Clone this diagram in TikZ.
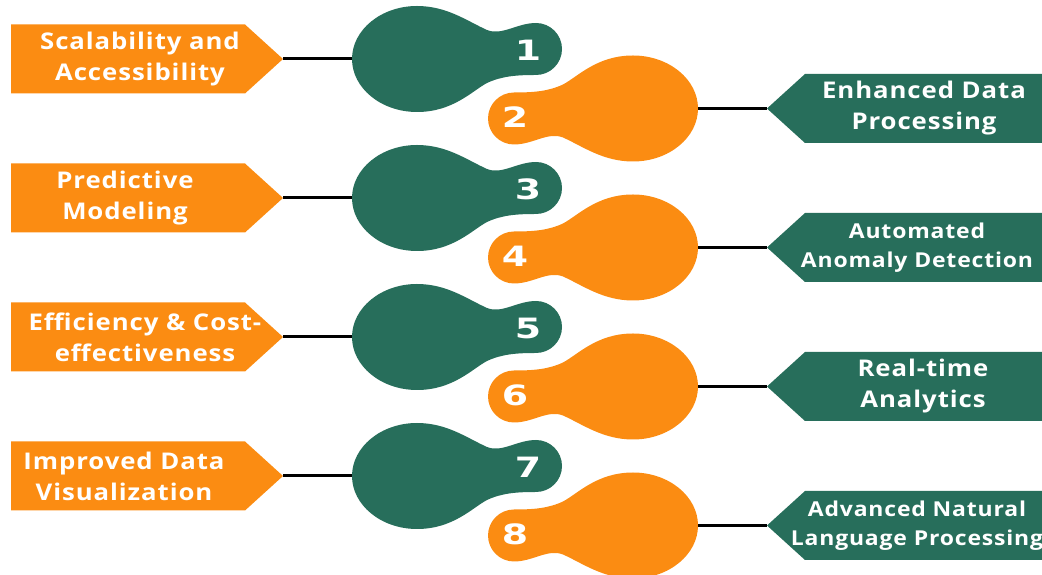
\documentclass[tikz,border=0pt]{standalone}
\usepackage{fontspec}
\setmainfont{Open Sans}[FakeStretch=1.12,LetterSpace=4]
\newfontfamily\digitfont[FakeStretch=1.35]{DejaVu Sans}
\definecolor{gr}{RGB}{39,110,91}
\definecolor{orn}{RGB}{251,140,18}
\tikzset{
  blob/.pic={
    \fill[pic actions] (-65,0) .. controls (-65,29) and (-36,53) .. (0,53)
      .. controls (30,53) and (50,38) .. (70,29)
      .. controls (85,23) and (100,36) .. (119,36)
      arc[start angle=90,end angle=-90,radius=26]
      .. controls (100,-16) and (85,-17) .. (70,-24)
      .. controls (55,-32) and (36,-53) .. (0,-53)
      .. controls (-36,-53) and (-65,-29) .. (-65,0) -- cycle;
  },
  conn/.style={line width=3pt, black},
  lbltext/.style={text=white, align=center, inner sep=0pt,
    font=\bfseries\fontsize{23}{31}\selectfont},
  lblsmall/.style={lbltext, font=\bfseries\fontsize{20.5}{29}\selectfont},
  digit/.style={text=white, inner sep=0pt, font=\digitfont\bfseries\fontsize{28}{28}\selectfont}
}
\begin{document}
\begin{tikzpicture}[x=1pt,y=1pt]
\useasboundingbox (0,0) rectangle (1042,575);
\clip (0,0) rectangle (1042,575);
\foreach \k/\a/\b in {0/1/2,1/3/4,2/5/6,3/7/8}{
  \pgfmathsetmacro\Y{516-139*\k}
  \pgfmathsetmacro\Z{466.5-139*\k}
  % left label
  \fill[orn] (11,\Y+34.5) -- (245,\Y+34.5) -- (283,\Y) -- (245,\Y-34.5) -- (11,\Y-34.5) -- cycle;
  \coordinate (lt\a) at (283,\Y);
  % green blob
  \pic[fill=gr] at (417,\Y) {blob};
  \coordinate (gw\a) at (352,\Y);
  \node[digit] (d\a) at (528,\Y+9) {\a};
  \draw[conn] (lt\a) -- (gw\a);
  % orange blob
  \pic[fill=orn, rotate=180] at (633,\Z) {blob};
  \coordinate (oe\b) at (698,\Z);
  \node[digit] (d\b) at (515,\Z-9) {\b};
  % right label
  \fill[gr] (1050,\Z+34.5) -- (805,\Z+34.5) -- (767,\Z) -- (805,\Z-34.5) -- (1050,\Z-34.5) -- cycle;
  \coordinate (rt\b) at (767,\Z);
  \draw[conn] (oe\b) -- (rt\b);
}
\node[lbltext] (t1) at (140,516) {Scalability and\\Accessibility};
\node[lbltext] (t3) at (125,377) {Predictive\\Modeling};
\node[lbltext] (t5) at (145,238) {Efficiency \& Cost-\\effectiveness};
\node[lbltext] (t7) at (124,99) {Improved Data\\Visualization};
\node[lbltext] (t2) at (924,466.5) {Enhanced Data\\Processing};
\node[lblsmall] (t4) at (917,327.5) {Automated\\Anomaly Detection};
\node[lbltext] (t6) at (923,188.5) {Real-time\\Analytics};
\node[lblsmall] (t8) at (917,49.5) {Advanced Natural\\Language Processing};
\end{tikzpicture}
\end{document}
